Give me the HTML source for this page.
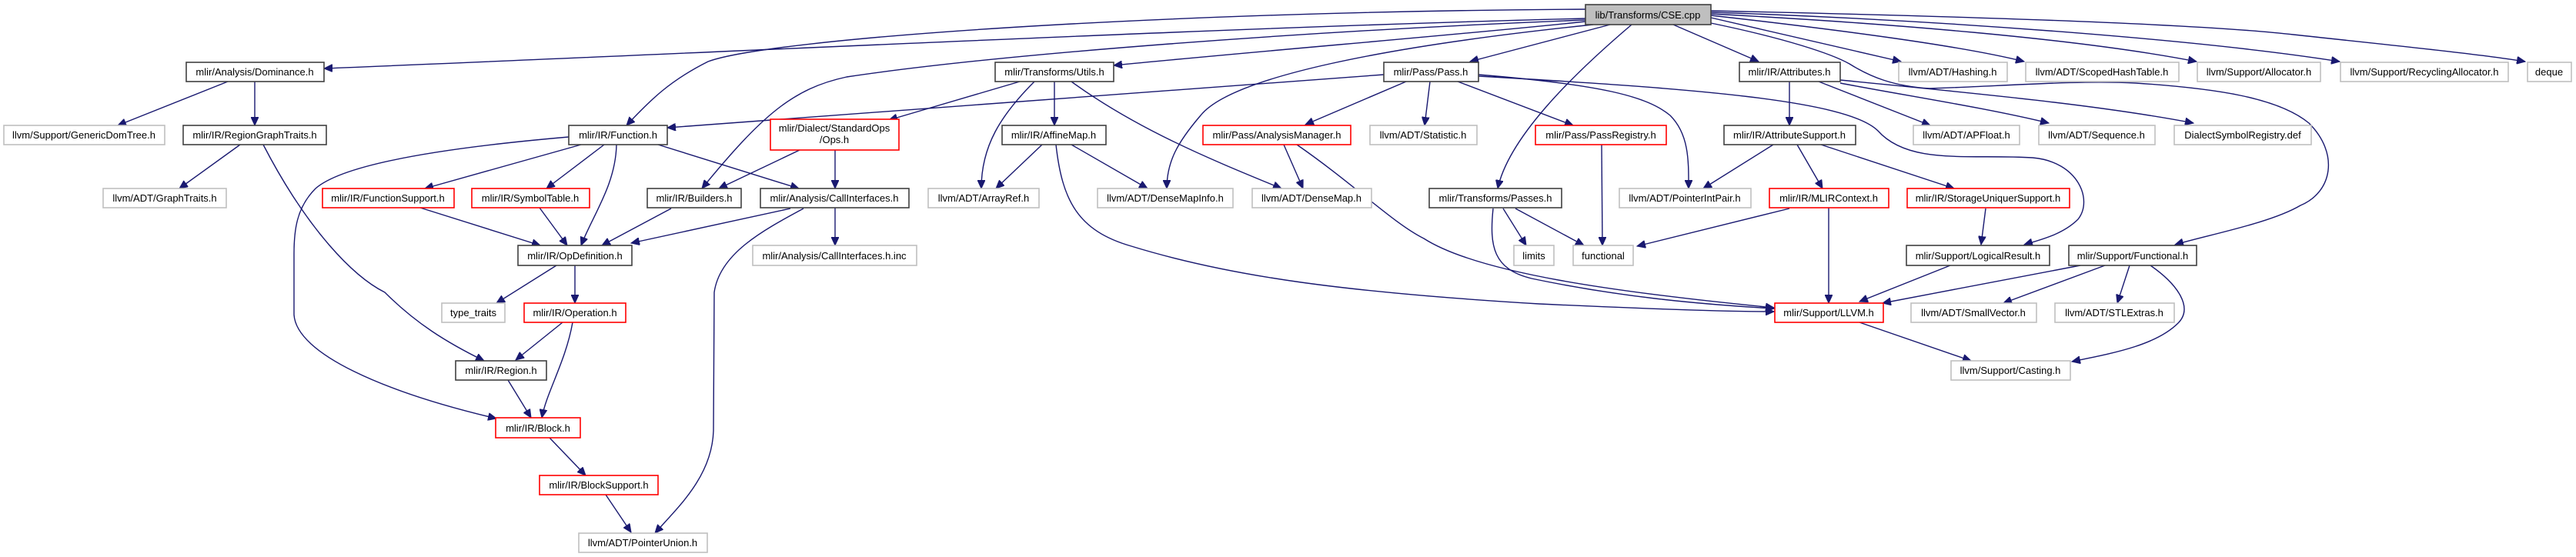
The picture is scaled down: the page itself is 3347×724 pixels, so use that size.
<!DOCTYPE html>
<html><head><meta charset="utf-8"><style>
html,body{margin:0;padding:0;background:#fff;}
svg{display:block;}
text{font-family:"Liberation Sans",sans-serif;font-size:13px;text-anchor:middle;fill:#000;}
.e{fill:none;stroke:#191970;stroke-width:1.4;marker-end:url(#a);}
.b{fill:#fff;stroke:#404040;stroke-width:1.6;}
.g{fill:#fff;stroke:#bfbfbf;stroke-width:1.6;}
.r{fill:#fff;stroke:#ff0000;stroke-width:1.6;}
</style></head><body>
<svg width="3347" height="724" viewBox="0 0 3347 724" xmlns="http://www.w3.org/2000/svg">
<defs><marker id="a" markerUnits="userSpaceOnUse" markerWidth="12" markerHeight="10" refX="11" refY="5" orient="auto"><path d="M0,0 L11,5 L0,10 Z" fill="#191970" stroke="#191970"/></marker></defs>

<!-- edges from root -->
<path class="e" d="M2060,24 C1600,35 900,70 421,89"/>
<path class="e" d="M2060,12 C1500,15 1000,50 920,80 C870,105 845,130 814,163"/>
<path class="e" d="M2060,26 C1700,40 1300,70 1100,100 C1030,115 990,150 912,245"/>
<path class="e" d="M2060,28 C1900,45 1650,65 1447,85"/>
<path class="e" d="M2070,32 C1800,60 1600,100 1560,150 C1530,185 1516,210 1516,245"/>
<path class="e" d="M2092,32 L1910,80"/>
<path class="e" d="M2120,32 C2040,100 1960,180 1946,245"/>
<path class="e" d="M2174,32 L2285,80"/>
<path class="e" d="M2223,23 L2470,80"/>
<path class="e" d="M2223,20 C2400,40 2550,60 2630,80"/>
<path class="e" d="M2223,18 C2450,30 2700,50 2854,80"/>
<path class="e" d="M2223,16 C2500,25 2850,50 3040,80"/>
<path class="e" d="M2223,14 C2500,20 2850,30 2980,45 C3100,58 3220,70 3281,80"/>
<path class="e" d="M2223,30 C2320,50 2380,70 2403,83 C2430,100 2460,112 2507,115 C2600,112 2700,104 2775,108 C2880,115 2960,127 3000,160 C3040,200 3030,250 2989,267 C2950,290 2870,305 2826,318"/>

<!-- Attributes.h edges -->
<path class="e" d="M2325,106 L2325,163"/>
<path class="e" d="M2363,106 L2508,163"/>
<path class="e" d="M2391,108 C2480,125 2580,140 2662,160"/>
<path class="e" d="M2391,104 C2550,120 2720,135 2850,160"/>

<!-- Pass.h edges -->
<path class="e" d="M1798,97 L867,166"/>
<path class="e" d="M1921,99 C2200,115 2400,130 2440,170 C2480,215 2560,200 2641,205 C2700,210 2720,260 2700,285 C2680,305 2650,312 2630,318"/>
<path class="e" d="M1827,106 L1696,162"/>
<path class="e" d="M1858,106 L1851,163"/>
<path class="e" d="M1894,106 L2044,163"/>
<path class="e" d="M1921,97 C2080,110 2140,125 2170,150 C2195,175 2194,210 2194,245"/>

<!-- Dominance etc -->
<path class="e" d="M296,106 L153,163"/>
<path class="e" d="M331,106 L331,163"/>
<path class="e" d="M312,188 L233,245"/>
<path class="e" d="M342,188 C400,300 460,360 500,380 C540,420 580,445 629,469"/>
<path class="e" d="M739,178 C600,190 450,210 410,245 C385,270 382,300 382,330 L382,409 C385,460 500,510 645,544"/>
<path class="e" d="M755,188 L552,245"/>
<path class="e" d="M785,188 L710,245"/>
<path class="e" d="M801,188 C800,240 770,280 755,319"/>
<path class="e" d="M855,188 L1038,245"/>
<path class="e" d="M546,270 L702,319"/>
<path class="e" d="M701,270 L737,319"/>
<path class="e" d="M872,271 L782,319"/>
<path class="e" d="M1027,271 L820,316"/>
<path class="e" d="M1085,270 L1085,319"/>
<path class="e" d="M1044,271 C990,300 935,330 928,380 L927,560 C925,620 880,660 851,693"/>
<path class="e" d="M1039,195 L934,245"/>
<path class="e" d="M1085,195 L1085,245"/>
<path class="e" d="M1325,106 L1155,156"/>
<path class="e" d="M1344,106 C1300,150 1275,190 1275,245"/>
<path class="e" d="M1370,106 L1370,163"/>
<path class="e" d="M1392,106 C1480,170 1580,210 1665,245"/>
<path class="e" d="M1354,188 L1294,245"/>
<path class="e" d="M1392,188 L1491,245"/>
<path class="e" d="M1372,188 C1380,260 1400,300 1470,320 C1600,360 1750,380 2000,395 C2150,402 2250,405 2305,405"/>
<path class="e" d="M1668,188 L1693,245"/>
<path class="e" d="M1685,188 C1760,240 1810,290 1850,310 C1920,355 2100,380 2305,400"/>
<path class="e" d="M2081,188 L2082,319"/>
<path class="e" d="M2304,188 L2213,245"/>
<path class="e" d="M2335,188 L2368,245"/>
<path class="e" d="M2366,188 L2539,245"/>
<path class="e" d="M1953,271 L1983,319"/>
<path class="e" d="M1969,271 L2058,319"/>
<path class="e" d="M1940,271 C1935,320 1940,350 1990,362 C2100,385 2200,395 2305,401"/>
<path class="e" d="M2325,271 L2127,320"/>
<path class="e" d="M2376,270 L2376,394"/>
<path class="e" d="M2580,271 L2574,318"/>
<path class="e" d="M2534,345 L2416,392"/>
<path class="e" d="M2703,345 L2446,394"/>
<path class="e" d="M2735,345 L2603,394"/>
<path class="e" d="M2767,345 L2751,394"/>
<path class="e" d="M2794,345 C2830,370 2850,400 2830,420 C2800,450 2740,460 2692,470"/>
<path class="e" d="M2416,419 L2561,469"/>
<path class="e" d="M723,345 L645,394"/>
<path class="e" d="M747,345 L747,394"/>
<path class="e" d="M731,419 L670,468"/>
<path class="e" d="M744,419 C735,470 710,510 704,543"/>
<path class="e" d="M660,494 L690,543"/>
<path class="e" d="M714,569 L761,618"/>
<path class="e" d="M787,643 L820,692"/>

<!-- nodes -->
<rect x="2060" y="6" width="163" height="26" fill="#bfbfbf" stroke="#404040" stroke-width="1.6"/><text x="2141" y="24">lib/Transforms/CSE.cpp</text>

<rect class="b" x="242" y="81" width="179" height="25"/><text x="331" y="98">mlir/Analysis/Dominance.h</text>
<rect class="b" x="1293" y="81" width="154" height="25"/><text x="1370" y="98">mlir/Transforms/Utils.h</text>
<rect class="b" x="1798" y="81" width="123" height="25"/><text x="1859" y="98">mlir/Pass/Pass.h</text>
<rect class="b" x="2260" y="81" width="131" height="25"/><text x="2325" y="98">mlir/IR/Attributes.h</text>
<rect class="g" x="2467" y="81" width="141" height="25"/><text x="2537" y="98">llvm/ADT/Hashing.h</text>
<rect class="g" x="2632" y="81" width="199" height="25"/><text x="2731" y="98">llvm/ADT/ScopedHashTable.h</text>
<rect class="g" x="2855" y="81" width="160" height="25"/><text x="2935" y="98">llvm/Support/Allocator.h</text>
<rect class="g" x="3041" y="81" width="218" height="25"/><text x="3150" y="98">llvm/Support/RecyclingAllocator.h</text>
<rect class="g" x="3284" y="81" width="57" height="25"/><text x="3312" y="98">deque</text>

<rect class="g" x="5" y="163" width="209" height="25"/><text x="109" y="180">llvm/Support/GenericDomTree.h</text>
<rect class="b" x="238" y="163" width="186" height="25"/><text x="331" y="180">mlir/IR/RegionGraphTraits.h</text>
<rect class="b" x="739" y="163" width="128" height="25"/><text x="803" y="180">mlir/IR/Function.h</text>
<rect class="r" x="1001" y="155" width="167" height="40"/><text x="1084" y="171">mlir/Dialect/StandardOps</text><text x="1084" y="186">/Ops.h</text>
<rect class="b" x="1302" y="163" width="135" height="25"/><text x="1369" y="180">mlir/IR/AffineMap.h</text>
<rect class="r" x="1563" y="163" width="192" height="25"/><text x="1659" y="180">mlir/Pass/AnalysisManager.h</text>
<rect class="g" x="1780" y="163" width="139" height="25"/><text x="1849" y="180">llvm/ADT/Statistic.h</text>
<rect class="r" x="1995" y="163" width="170" height="25"/><text x="2080" y="180">mlir/Pass/PassRegistry.h</text>
<rect class="b" x="2240" y="163" width="171" height="25"/><text x="2325" y="180">mlir/IR/AttributeSupport.h</text>
<rect class="g" x="2486" y="163" width="138" height="25"/><text x="2555" y="180">llvm/ADT/APFloat.h</text>
<rect class="g" x="2649" y="163" width="151" height="25"/><text x="2724" y="180">llvm/ADT/Sequence.h</text>
<rect class="g" x="2825" y="163" width="178" height="25"/><text x="2914" y="180">DialectSymbolRegistry.def</text>

<rect class="g" x="134" y="245" width="160" height="25"/><text x="214" y="262">llvm/ADT/GraphTraits.h</text>
<rect class="r" x="419" y="245" width="171" height="25"/><text x="504" y="262">mlir/IR/FunctionSupport.h</text>
<rect class="r" x="613" y="245" width="153" height="25"/><text x="689" y="262">mlir/IR/SymbolTable.h</text>
<rect class="b" x="841" y="245" width="122" height="25"/><text x="902" y="262">mlir/IR/Builders.h</text>
<rect class="b" x="988" y="245" width="193" height="25"/><text x="1084" y="262">mlir/Analysis/CallInterfaces.h</text>
<rect class="g" x="1206" y="245" width="144" height="25"/><text x="1278" y="262">llvm/ADT/ArrayRef.h</text>
<rect class="g" x="1426" y="245" width="176" height="25"/><text x="1514" y="262">llvm/ADT/DenseMapInfo.h</text>
<rect class="g" x="1627" y="245" width="155" height="25"/><text x="1704" y="262">llvm/ADT/DenseMap.h</text>
<rect class="b" x="1857" y="245" width="172" height="25"/><text x="1943" y="262">mlir/Transforms/Passes.h</text>
<rect class="g" x="2104" y="245" width="171" height="25"/><text x="2189" y="262">llvm/ADT/PointerIntPair.h</text>
<rect class="r" x="2299" y="245" width="155" height="25"/><text x="2376" y="262">mlir/IR/MLIRContext.h</text>
<rect class="r" x="2478" y="245" width="211" height="25"/><text x="2583" y="262">mlir/IR/StorageUniquerSupport.h</text>

<rect class="b" x="673" y="319" width="148" height="26"/><text x="747" y="337">mlir/IR/OpDefinition.h</text>
<rect class="g" x="978" y="319" width="213" height="26"/><text x="1084" y="337">mlir/Analysis/CallInterfaces.h.inc</text>
<rect class="g" x="1967" y="319" width="52" height="26"/><text x="1993" y="337">limits</text>
<rect class="g" x="2044" y="319" width="78" height="26"/><text x="2083" y="337">functional</text>
<rect class="b" x="2477" y="319" width="186" height="26"/><text x="2570" y="337">mlir/Support/LogicalResult.h</text>
<rect class="b" x="2688" y="319" width="166" height="26"/><text x="2771" y="337">mlir/Support/Functional.h</text>

<rect class="g" x="574" y="394" width="82" height="25"/><text x="615" y="411">type_traits</text>
<rect class="r" x="681" y="394" width="132" height="25"/><text x="747" y="411">mlir/IR/Operation.h</text>
<rect class="r" x="2306" y="394" width="141" height="25"/><text x="2376" y="411">mlir/Support/LLVM.h</text>
<rect class="g" x="2483" y="394" width="163" height="25"/><text x="2564" y="411">llvm/ADT/SmallVector.h</text>
<rect class="g" x="2670" y="394" width="155" height="25"/><text x="2747" y="411">llvm/ADT/STLExtras.h</text>

<rect class="b" x="592" y="469" width="118" height="25"/><text x="651" y="486">mlir/IR/Region.h</text>
<rect class="g" x="2535" y="469" width="155" height="25"/><text x="2612" y="486">llvm/Support/Casting.h</text>

<rect class="r" x="644" y="543" width="110" height="26"/><text x="699" y="561">mlir/IR/Block.h</text>
<rect class="r" x="701" y="618" width="154" height="25"/><text x="778" y="635">mlir/IR/BlockSupport.h</text>
<rect class="g" x="752" y="693" width="167" height="25"/><text x="835" y="710">llvm/ADT/PointerUnion.h</text>
</svg>
</body></html>
